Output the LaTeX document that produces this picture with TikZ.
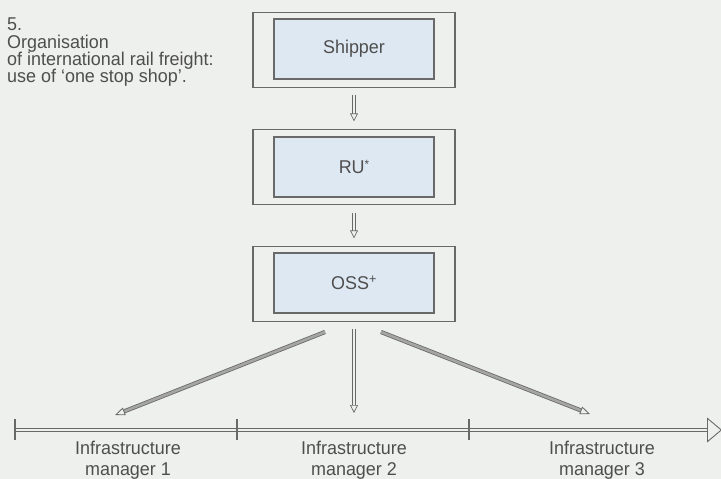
\documentclass[tikz,border=0pt]{standalone}
\usepackage{fontspec}
\setmainfont{Liberation Sans}[FakeStretch=0.97]
\usetikzlibrary{arrows.meta,calc}
\definecolor{bg}{RGB}{238,240,237}
\definecolor{boxfill}{RGB}{222,232,243}
\definecolor{ln}{RGB}{105,105,105}
\definecolor{txt}{RGB}{78,78,78}
\begin{document}
\begin{tikzpicture}[x=1pt,y=-1pt,
  font=\fontsize{18.5}{17.3}\selectfont, text=txt,
  outerbox/.style={draw=ln, line width=1.3pt, fill=bg, minimum width=202pt, minimum height=75pt, inner sep=0pt},
  innerbox/.style={draw=ln, line width=1.3pt, fill=boxfill, minimum width=160pt, minimum height=60pt, inner sep=0pt},
  flow/.style={draw=ln, line width=0.7pt, double=bg, double distance=2.4pt,
    -{Triangle[open,length=8pt,width=8pt,line width=0.7pt]}},
  fan/.style={draw=ln, line width=0.8pt, double=ln!55!bg, double distance=2.6pt,
    -{Triangle[open,length=10pt,width=8pt,line width=0.8pt]}},
  axis/.style={draw=ln, line width=0.9pt, double=bg, double distance=2.8pt,
    -{Triangle[open,length=15pt,width=25pt,line width=0.9pt]}},
  tick/.style={draw=ln, line width=1.3pt},
  lab/.style={align=center, inner sep=0pt, anchor=north, font=\fontsize{18.5}{21}\selectfont}
]
\fill[bg] (0,0) rectangle (721,479);
\useasboundingbox (0,0) rectangle (721,479);

% title
\node[anchor=north west, align=left, inner sep=0pt,
      font=\fontsize{18.5}{17.3}\selectfont] (title) at (7,17.8)
  {5.\\Organisation\\of international rail freight:\\use of ‘one stop shop’.};

% boxes
\node[outerbox] (shipO) at (354,50) {};
\node[innerbox] (ship) at (354,49) {Shipper};
\node[outerbox] (ruO) at (354,167) {};
\node[innerbox] (ru) at (354,167) {RU\raisebox{0.5ex}{\fontsize{12}{12}\selectfont *}};
\node[outerbox] (ossO) at (354,284) {};
\node[innerbox] (oss) at (354,283) {OSS$^{\mbox{\fontsize{13}{13}\selectfont +}}$};

% arrows between boxes
\draw[flow, shorten <=6.5pt, shorten >=7.5pt] (shipO.south) -- (ruO.north);
\draw[flow, shorten <=7.5pt, shorten >=7.5pt] (ruO.south) -- (ossO.north);

% fan arrows
\coordinate (s1) at (325,332);
\coordinate (s2) at (354,329);
\coordinate (s3) at (381,332);
\coordinate (t1) at (115,415);
\coordinate (t2) at (354,413);
\coordinate (t3) at (590,414);
\draw[fan] (s1) -- (t1);
\draw[flow] (s2) -- (t2);
\draw[fan] (s3) -- (t3);

% time axis
\coordinate (a0) at (15,430);
\coordinate (a1) at (722,430);
\draw[axis] (a0) -- (a1);
\draw[tick] (15,419) -- (15,440);
\draw[tick] (237,419) -- (237,440);
\draw[tick] (469,419) -- (469,440);

% labels
\node[lab] (im1) at (128,441) {Infrastructure\\manager 1};
\node[lab] (im2) at (354,441) {Infrastructure\\manager 2};
\node[lab] (im3) at (602,441) {Infrastructure\\manager 3};
\end{tikzpicture}
\end{document}
